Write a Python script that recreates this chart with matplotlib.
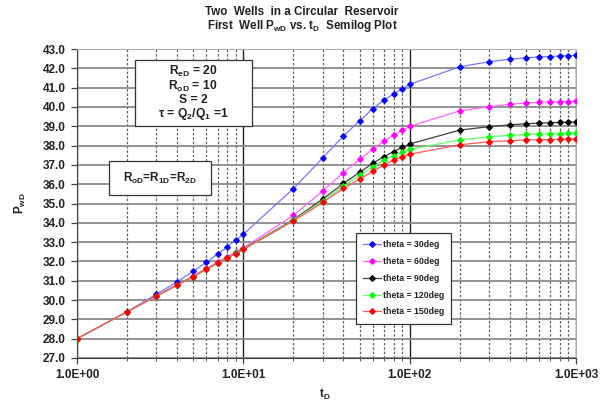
import matplotlib
matplotlib.use("Agg")
import matplotlib.pyplot as plt
from matplotlib.patches import Rectangle
from matplotlib.ticker import FixedLocator, FuncFormatter

plt.rcParams['font.family'] = ['Liberation Sans', 'DejaVu Sans']
plt.rcParams['mathtext.default'] = 'regular'

# dimensionless time
T_D = [1, 2, 3, 4, 5, 6, 7, 8, 9, 10,
       20, 30, 40, 50, 60, 70, 80, 90, 100,
       200, 300, 400, 500, 600, 700, 800, 900, 1000]

# P_wD for each angle between the wells
P_30 = [28.0, 29.4, 30.3, 30.94, 31.5, 31.95, 32.38, 32.75, 33.1, 33.41,
        35.77, 37.36, 38.5, 39.28, 39.91, 40.36, 40.67, 40.94, 41.17,
        42.08, 42.34, 42.47, 42.54, 42.59, 42.61, 42.64, 42.66, 42.67]
P_60 = [28.0, 29.4, 30.22, 30.8, 31.25, 31.64, 31.96, 32.24, 32.49, 32.71,
        34.38, 35.65, 36.6, 37.28, 37.82, 38.23, 38.54, 38.79, 38.99,
        39.8, 40.01, 40.14, 40.2, 40.24, 40.26, 40.27, 40.28, 40.3]
P_90 = [28.0, 29.39, 30.2, 30.78, 31.22, 31.61, 31.92, 32.18, 32.43, 32.65,
        34.16, 35.23, 36.04, 36.61, 37.08, 37.43, 37.69, 37.9, 38.08,
        38.8, 38.98, 39.07, 39.13, 39.16, 39.18, 39.2, 39.21, 39.22]
P_120 = [28.0, 29.39, 30.2, 30.77, 31.21, 31.6, 31.91, 32.17, 32.42, 32.63,
         34.12, 35.14, 35.9, 36.46, 36.89, 37.24, 37.47, 37.65, 37.8,
         38.29, 38.46, 38.53, 38.58, 38.6, 38.61, 38.62, 38.63, 38.63]
P_150 = [28.0, 29.39, 30.2, 30.77, 31.2, 31.6, 31.9, 32.16, 32.41, 32.62,
         34.09, 35.06, 35.78, 36.26, 36.66, 36.99, 37.25, 37.42, 37.55,
         38.04, 38.2, 38.25, 38.29, 38.3, 38.31, 38.32, 38.33, 38.33]

LABELS = ["theta = 30deg", "theta = 60deg", "theta = 90deg",
          "theta = 120deg", "theta = 150deg"]
SERIES = [P_30, P_60, P_90, P_120, P_150]
MARKER_COLORS = ["#0000FF", "#FF00FF", "#000000", "#00FF00", "#FF0000"]
LINE_COLORS = ["#7878FF", "#FF66FF", "#404040", "#66FF66", "#FF5A5A"]

Y_TICKS = [27 + i for i in range(17)]
X_MAJOR = [1, 10, 100, 1000]

W, H = 604, 403
fig = plt.figure(figsize=(W / 100, H / 100), dpi=100)
ax = fig.add_axes([77 / W, 1 - 358 / H, (576 - 77) / W, (358 - 49) / H])

for y, lab, mc, lc in zip(SERIES, LABELS, MARKER_COLORS, LINE_COLORS):
    ax.plot(T_D, y, color=lc, lw=0.9, marker="D", ms=2.8,
            mfc=mc, mec=mc, label=lab, zorder=3)

ax.set_xscale("log")
ax.set_xlim(1, 1000)
ax.set_ylim(27, 43)
ax.yaxis.set_major_locator(FixedLocator(Y_TICKS))
ax.yaxis.set_major_formatter(FuncFormatter(lambda v, p: f"{v:.1f}"))
ax.xaxis.set_major_locator(FixedLocator(X_MAJOR))
ax.xaxis.set_major_formatter(FuncFormatter(lambda v, p: f"{v:.1E}"))

ax.yaxis.grid(True, color="#8a8a8a", lw=1.3, zorder=1)
ax.xaxis.grid(True, which="major", color="#222222", lw=1.0)
ax.xaxis.grid(True, which="minor", color="#606060", lw=0.9, ls=(0, (2, 1.5)))
ax.set_axisbelow(True)

for s in ["top", "right"]:
    ax.spines[s].set_color("#b0b0b0")
for s in ["left", "bottom"]:
    ax.spines[s].set_color("#444444")
ax.tick_params(axis="both", which="major", direction="out", length=4,
               width=0.9, color="#444444", pad=4, labelsize=8.5)
ax.tick_params(axis="x", which="minor", length=2, color="#444444")
for lbl in ax.get_xticklabels() + ax.get_yticklabels():
    lbl.set_fontweight("bold")
    lbl.set_color("#222222")

leg = ax.legend(loc="upper left", bbox_to_anchor=(356 / W, 1 - 233 / H),
                bbox_transform=fig.transFigure, borderaxespad=0,
                prop={"size": 6.3, "weight": "bold"}, handlelength=2.0,
                labelspacing=0.9, fancybox=False, framealpha=1,
                borderpad=0.8, handletextpad=0.3)
leg.get_frame().set_edgecolor("#333333")
leg.get_frame().set_linewidth(0.9)
for t in leg.get_texts():
    t.set_color("#222222")

# title
fig.text(302 / W, 1 - 12 / H, "Two  Wells  in a Circular  Reservoir",
         ha="center", va="center", fontsize=8.4, fontweight="bold", color="#222222")
fig.text(302 / W, 1 - 26 / H, "First  Well P$_{wD}$ vs. t$_{D}$  Semilog Plot",
         ha="center", va="center", fontsize=8.4, fontweight="bold", color="#222222")

# axis labels
fig.text(325 / W, 1 - 394 / H, "t$_{D}$", ha="center", va="center",
         fontsize=8.5, fontweight="bold", color="#222222")
fig.text(20 / W, 1 - 203 / H, "P$_{wD}$", ha="center", va="center", rotation=90,
         fontsize=8.5, fontweight="bold", color="#222222")

# parameter boxes
box1 = Rectangle((135 / W, 1 - 126 / H), (252 - 135) / W, (126 - 60) / H,
                 transform=fig.transFigure, facecolor="white",
                 edgecolor="#333333", lw=0.9, zorder=5)
fig.add_artist(box1)
fig.text(193 / W, 1 - 93 / H,
         "R$_{eD}$ = 20\nR$_{oD}$ = 10\nS = 2\nτ = Q$_{2}$/Q$_{1}$ =1",
         ha="center", va="center", fontsize=8.7, fontweight="bold",
         color="#222222", linespacing=0.98, zorder=6)

box2 = Rectangle((109 / W, 1 - 195 / H), (211 - 109) / W, (195 - 161) / H,
                 transform=fig.transFigure, facecolor="white",
                 edgecolor="#333333", lw=0.9, zorder=5)
fig.add_artist(box2)
fig.text(160 / W, 1 - 178 / H, "R$_{oD}$=R$_{1D}$=R$_{2D}$",
         ha="center", va="center", fontsize=8.5, fontweight="bold",
         color="#222222", zorder=6)

fig.savefig("out.png", dpi=100)
